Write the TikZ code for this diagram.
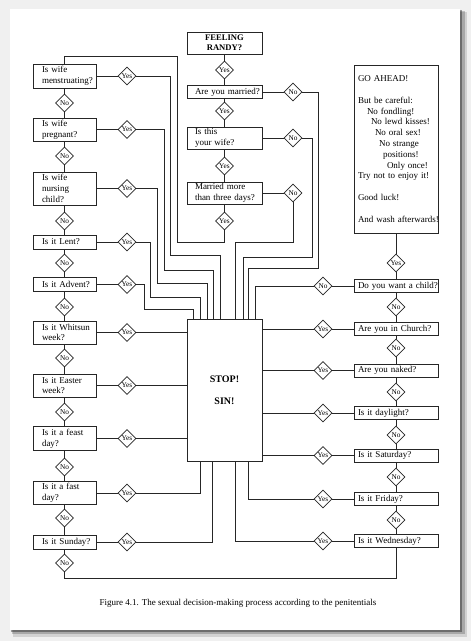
\documentclass[tikz,border=0pt]{standalone}
\usepackage{fontspec}
\setmainfont{Liberation Serif}
\usetikzlibrary{shapes.geometric}
\begin{document}
\begin{tikzpicture}[x=1pt,y=-1pt,
  every node/.style={font=\fontsize{9}{10.8}\selectfont, text=black, execute at begin node={\hyphenpenalty=10000\exhyphenpenalty=10000\hbadness=10000\hfuzz=50pt}},
  ln/.style={draw=black!85, line width=0.65pt},
  dia/.style={diamond, draw=black!85, line width=0.65pt, fill=white, minimum width=18pt, minimum height=18pt, inner sep=0pt, font=\fontsize{7.3}{8}\selectfont},
  lbox/.style={rectangle, draw=black!85, line width=0.65pt, minimum width=63pt, text width=45pt, inner xsep=9pt, inner ysep=0pt, align=left},
  cbox/.style={rectangle, draw=black!85, line width=0.65pt, minimum width=75pt, text width=59pt, inner xsep=8pt, inner ysep=0pt, align=left},
  rbox/.style={rectangle, draw=black!85, line width=0.65pt, minimum width=84pt, text width=76pt, inner xsep=4pt, inner ysep=0pt, align=left, minimum height=13pt},
  stopbox/.style={rectangle, draw=black!85, line width=0.65pt, minimum width=75pt, minimum height=142pt, align=center, font=\bfseries\fontsize{10}{22}\selectfont}
]
\useasboundingbox (0,0) rectangle (471,641);
% page and shadow
\fill[black!6] (0,0) rectangle (471,641);
\fill[black, opacity=0.12] (13,12) rectangle (467,637);
\fill[black, opacity=0.2] (12,11) rectangle (465,634);
\fill[black, opacity=0.35] (11,10) rectangle (462,632);
\fill[white] (10,9) rectangle (460,630);

% ---------- centre column ----------
\node[cbox, align=center, minimum height=22pt, font=\bfseries\fontsize{8.6}{10.4}\selectfont] (fr) at (224.5,43) {FEELING\\RANDY?};
\node[dia] (y0) at (224.5,70) {Yes};
\node[cbox, minimum height=13pt] (q1) at (224.5,92) {\mbox{Are you married?}};
\node[dia] (y1) at (224.5,111) {Yes};
\node[cbox, minimum height=22pt] (q2) at (224.5,138) {\mbox{Is this}\\\mbox{your wife?}};
\node[dia] (y2) at (224.5,166) {Yes};
\node[cbox, minimum height=22pt] (q3) at (224.5,193) {\mbox{Married more}\\\mbox{than three days?}};
\node[dia] (y3) at (224.5,221) {Yes};
\node[dia] (n1) at (293,92) {No};
\node[dia] (n2) at (293,138) {No};
\node[dia] (n3) at (293,193) {No};
\node[stopbox] (stop) at (224.5,390) {STOP!\\SIN!};

% ---------- left column ----------
\node[lbox, minimum height=24pt] (L1) at (64.5,76) {\mbox{Is wife}\\\mbox{menstruating?}};
\node[lbox, minimum height=23pt] (L2) at (64.5,129.5) {\mbox{Is wife}\\\mbox{pregnant?}};
\node[lbox, minimum height=33pt] (L3) at (64.5,188.5) {\mbox{Is wife}\\\mbox{nursing}\\\mbox{child?}};
\node[lbox, minimum height=14pt] (L4) at (64.5,242) {\mbox{Is it Lent?}};
\node[lbox, minimum height=14pt] (L5) at (64.5,284.5) {\mbox{Is it Advent?}};
\node[lbox, minimum height=23pt] (L6) at (64.5,332.5) {\mbox{Is it Whitsun}\\\mbox{week?}};
\node[lbox, minimum height=23pt] (L7) at (64.5,385.5) {\mbox{Is it Easter}\\\mbox{week?}};
\node[lbox, minimum height=24pt] (L8) at (64.5,438.5) {\mbox{Is it a feast}\\\mbox{day?}};
\node[lbox, minimum height=23pt] (L9) at (64.5,493) {\mbox{Is it a fast}\\\mbox{day?}};
\node[lbox, minimum height=14pt] (L10) at (64.5,542) {\mbox{Is it Sunday?}};

\foreach \i/\y in {1/76,2/129.5,3/188.5,4/242,5/284.5,6/332.5,7/385.5,8/438.5,9/493,10/542}{
  \node[dia] (LY\i) at (127,\y) {Yes};
}
\foreach \i/\y in {1/103,2/156,3/221,4/263,5/307,6/358,7/412,8/467,9/518,10/563}{
  \node[dia] (LN\i) at (64.5,\y) {No};
}

% ---------- right column ----------
\node[rbox, minimum height=168pt] (G) at (396,149) {\mbox{GO AHEAD!}\\[10.8pt]\mbox{But be careful:}\\
\mbox{\hspace*{9pt}No fondling!}\\
\mbox{\hspace*{13pt}No lewd kisses!}\\
\mbox{\hspace*{17pt}No oral sex!}\\
\mbox{\hspace*{21pt}No strange}\\
\mbox{\hspace*{25pt}positions!}\\
\mbox{\hspace*{29pt}Only once!}\\
\mbox{Try not to enjoy it!}\\[10.8pt]
\mbox{Good luck!}\\[10.8pt]
\mbox{And wash afterwards!}};
\node[dia] (RYg) at (396,263) {Yes};
\node[rbox] (R1) at (396,286) {\mbox{Do you want a child?}};
\node[rbox] (R2) at (396,329) {\mbox{Are you in Church?}};
\node[rbox] (R3) at (396,370.5) {\mbox{Are you naked?}};
\node[rbox] (R4) at (396,413) {\mbox{Is it daylight?}};
\node[rbox] (R5) at (396,455.5) {\mbox{Is it Saturday?}};
\node[rbox] (R6) at (396,499) {\mbox{Is it Friday?}};
\node[rbox] (R7) at (396,541) {\mbox{Is it Wednesday?}};
\node[dia] (RN1) at (323,286) {No};
\foreach \i/\y in {2/329,3/370.5,4/413,5/455.5,6/499,7/541}{
  \node[dia] (RY\i) at (323,\y) {Yes};
}
\foreach \i/\y in {1/307,2/348,3/392,4/435,5/477,6/520}{
  \node[dia] (RM\i) at (396,\y) {No};
}

% ---------- connectors: centre ----------
\draw[ln] (fr) -- (y0) -- (q1) -- (y1) -- (q2) -- (y2) -- (q3) -- (y3);
\draw[ln] (q1) -- (n1);
\draw[ln] (q2) -- (n2);
\draw[ln] (q3) -- (n3);
\draw[ln] (n1.east) -| (318,268) -| (248,0 |- stop.north);
\draw[ln] (n2.east) -| (312,257) -| (243,0 |- stop.north);
\draw[ln] (n3.south) |- (235,242) -- (235,0 |- stop.north);
\draw[ln] (y3.south) |- (177,242) |- (64.5,56) -- (L1.north);

% ---------- connectors: left ----------
\foreach \i in {1,...,10}{ \draw[ln] (L\i) -- (LY\i); }
\draw[ln] (L1) -- (LN1) -- (L2) -- (LN2) -- (L3) -- (LN3) -- (L4) -- (LN4) -- (L5) -- (LN5) -- (L6) -- (LN6) -- (L7) -- (LN7) -- (L8) -- (LN8) -- (L9) -- (LN9) -- (L10) -- (LN10);
\draw[ln] (LY1.east) -| (170,255) -| (220,0 |- stop.north);
\draw[ln] (LY2.east) -| (164,270) -| (213,0 |- stop.north);
\draw[ln] (LY3.east) -| (157,283) -| (207,0 |- stop.north);
\draw[ln] (LY4.east) -| (150,297) -| (200,0 |- stop.north);
\draw[ln] (LY5.east) -| (144,309) -| (193,0 |- stop.north);
\draw[ln] (LY6.east) -- (LY6.east -| stop.west);
\draw[ln] (LY7.east) -- (LY7.east -| stop.west);
\draw[ln] (LY8.east) -- (LY8.east -| stop.west);
\draw[ln] (LY9.east) -| (200,0 |- stop.south);
\draw[ln] (LY10.east) -| (212,0 |- stop.south);
\draw[ln] (LN10.south) |- (396,578) -- (R7.south);

% ---------- connectors: right ----------
\draw[ln] (R7) -- (RM6) -- (R6) -- (RM5) -- (R5) -- (RM4) -- (R4) -- (RM3) -- (R3) -- (RM2) -- (R2) -- (RM1) -- (R1) -- (RYg) -- (G);
\draw[ln] (R1) -- (RN1);
\draw[ln] (RN1.west) -| (255,0 |- stop.north);
\foreach \i in {2,...,7}{ \draw[ln] (R\i) -- (RY\i); }
\draw[ln] (RY2.west) -- (RY2.west -| stop.east);
\draw[ln] (RY3.west) -- (RY3.west -| stop.east);
\draw[ln] (RY4.west) -- (RY4.west -| stop.east);
\draw[ln] (RY5.west) -- (RY5.west -| stop.east);
\draw[ln] (RY6.west) -| (248,0 |- stop.south);
\draw[ln] (RY7.west) -| (235,0 |- stop.south);

% caption
\node (cap) at (238,603) {Figure 4.1. The sexual decision-making process according to the penitentials};
\end{tikzpicture}
\end{document}
